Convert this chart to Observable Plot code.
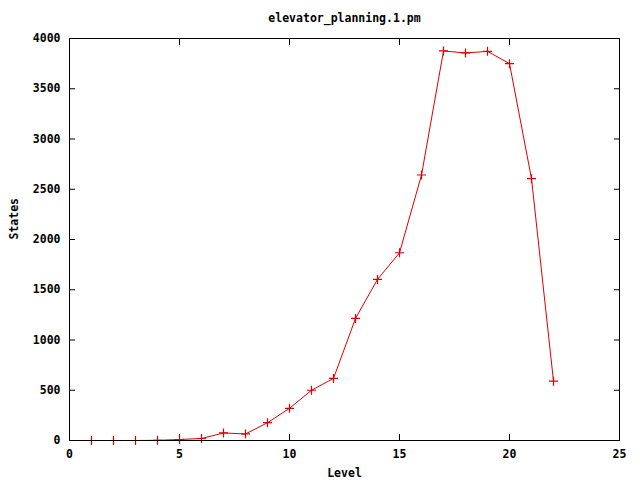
<!DOCTYPE html>
<html>
<head>
<meta charset="utf-8">
<script src="https://cdn.jsdelivr.net/npm/d3@7"></script>
<script src="https://cdn.jsdelivr.net/npm/@observablehq/plot@0.6"></script>
<style>
  html, body { margin: 0; padding: 0; background: #fff; }
</style>
</head>
<body>
<div id="chart"></div>
<script>
const title = "elevator_planning.1.pm";
const xLabel = "Level";
const yLabel = "States";
const levels = [1, 2, 3, 4, 5, 6, 7, 8, 9, 10, 11, 12, 13, 14, 15, 16, 17, 18, 19, 20, 21, 22];
const states = [0, 0, 0, 2, 10, 20, 75, 65, 177, 320, 500, 618, 1215, 1603, 1868, 2642, 3876, 3856, 3872, 3750, 2605, 590];
const xTicks = [0, 5, 10, 15, 20, 25];
const yTicks = [0, 500, 1000, 1500, 2000, 2500, 3000, 3500, 4000];

const data = levels.map((l, i) => ({level: l, states: states[i]}));
const red = "#dd0000";
const plus = {
  draw(context, size) {
    const r = Math.sqrt(size / Math.PI);
    context.moveTo(-r, 0); context.lineTo(r, 0);
    context.moveTo(0, -r); context.lineTo(0, r);
  }
};
const fmt = d3.format("d");

const chart = Plot.plot({
  width: 640,
  height: 480,
  marginLeft: 69,
  marginRight: 21,
  marginTop: 38,
  marginBottom: 40,
  style: {fontFamily: "'DejaVu Sans Mono', monospace", fontSize: "11.5px", fontWeight: "bold", color: "#000", background: "#fff"},
  x: {domain: [0, 25], label: null},
  y: {domain: [0, 4000], label: null},
  marks: [
    Plot.axisX(xTicks, {tickSize: 6, dy: -6, text: null, label: null}),
    Plot.axisX(xTicks, {anchor: "top", tickSize: 6, dy: 6, text: null, label: null}),
    Plot.axisX(xTicks, {tickSize: 0, tickPadding: 9, label: null, fill: "#000", tickFormat: fmt}),
    Plot.axisY(yTicks, {tickSize: 6, dx: 6, text: null, label: null}),
    Plot.axisY(yTicks, {anchor: "right", tickSize: 6, dx: -6, text: null, label: null}),
    Plot.axisY(yTicks, {tickSize: 0, tickPadding: 9, label: null, fill: "#000", tickFormat: fmt}),
    Plot.line(data, {x: "level", y: "states", stroke: red, strokeWidth: 1}),
    Plot.dot(data, {x: "level", y: "states", symbol: plus, r: 4.5, stroke: red, strokeWidth: 1.2, fill: "none"}),
    Plot.frame({stroke: "#000", strokeWidth: 1}),
    Plot.text([title], {frameAnchor: "top", lineAnchor: "middle", dy: -20, fill: "#000"}),
    Plot.text([xLabel], {frameAnchor: "bottom", lineAnchor: "middle", dy: 33, fill: "#000"}),
    Plot.text([yLabel], {frameAnchor: "left", lineAnchor: "middle", dx: -55, rotate: -90, fill: "#000"})
  ]
});
document.getElementById("chart").appendChild(chart);
</script>
</body>
</html>
